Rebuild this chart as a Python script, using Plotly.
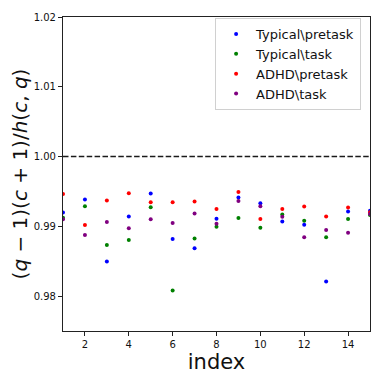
import plotly.graph_objects as go

index = list(range(1, 16))
typical_pretask = [0.99199, 0.99384, 0.98496, 0.99142, 0.99469, 0.98819, 0.98687, 0.99108,
                   0.99413, 0.99331, 0.99071, 0.99023, 0.98208, 0.99213, 0.99225]
typical_task = [0.99122, 0.99289, 0.98734, 0.98805, 0.99275, 0.98080, 0.98824, 0.98994,
                0.99118, 0.98980, 0.99171, 0.99080, 0.98844, 0.99104, 0.99161]
adhd_pretask = [0.99464, 0.99018, 0.99370, 0.99474, 0.99346, 0.99346, 0.99356, 0.99250,
                0.99492, 0.99104, 0.99250, 0.99284, 0.99142, 0.99270, 0.99203]
adhd_task = [0.99100, 0.98876, 0.99061, 0.98972, 0.99100, 0.99047, 0.99185, 0.99037,
             0.99364, 0.99289, 0.99137, 0.98843, 0.98947, 0.98909, 0.99175]
reference_level = 1.0

series = [
    ("Typical\\pretask", typical_pretask, "blue"),
    ("Typical\\task", typical_task, "green"),
    ("ADHD\\pretask", adhd_pretask, "red"),
    ("ADHD\\task", adhd_task, "purple"),
]

FONT = "DejaVu Sans"
fig = go.Figure()
for name, vals, color in series:
    fig.add_trace(go.Scatter(
        x=index, y=vals, mode="markers", name=name,
        marker=dict(color=color, size=4, line=dict(width=0)),
        cliponaxis=True,
    ))

fig.add_hline(y=reference_level, line=dict(color="#1a1a1a", width=1.5, dash="5.5px,2.4px"))

axis_common = dict(
    showline=True, linecolor="#222", linewidth=1.2, mirror=True,
    ticks="outside", ticklen=4, tickwidth=1, tickcolor="#222",
    showgrid=False, zeroline=False,
    tickfont=dict(family=FONT, size=10, color="#111"),
)

fig.update_layout(
    width=366, height=366,
    margin=dict(l=55, r=3, t=6, b=43),
    paper_bgcolor="white", plot_bgcolor="white",
    font=dict(family=FONT, color="#111"),
    xaxis=dict(range=[1, 15], tickvals=[2, 4, 6, 8, 10, 12, 14],
               title=dict(text="index", font=dict(family=FONT, size=21), standoff=2),
               **axis_common),
    yaxis=dict(range=[0.975, 1.02], tickvals=[0.98, 0.99, 1.00, 1.01, 1.02],
               tickformat=".2f",
               title=dict(text="(<i>q</i> − 1)(<i>c</i> + 1)/<i>h</i>(<i>c</i>, <i>q</i>)",
                          font=dict(family=FONT, size=20), standoff=6),
               **axis_common),
    legend=dict(
        x=0.971, y=0.997, xanchor="right", yanchor="top",
        bgcolor="white", bordercolor="#d0d0d0", borderwidth=1,
        font=dict(family=FONT, size=13, color="#111"),
        tracegroupgap=0, itemwidth=30,
    ),
    showlegend=True,
)

fig.write_html("out.html")
